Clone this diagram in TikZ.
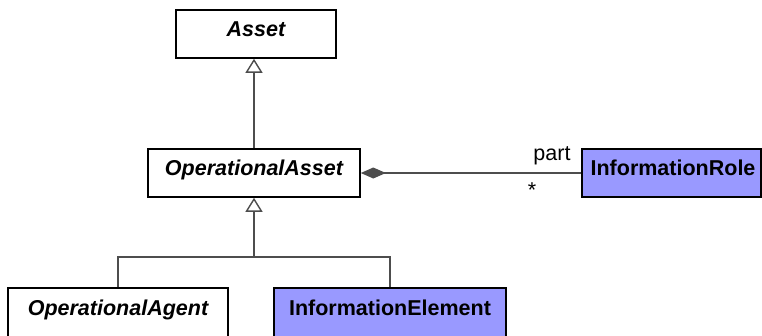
\documentclass[tikz,border=0pt]{standalone}
\usepackage{fontspec}
\setmainfont{Liberation Sans}
\usetikzlibrary{arrows.meta}
\definecolor{lnclr}{HTML}{4D4D4D}
\definecolor{infofill}{HTML}{9999FF}
\tikzset{
  cls/.style={draw=black, line width=1.6pt, rectangle, minimum height=48pt,
    inner sep=0pt, text height=15pt, text depth=10pt,
    font=\fontsize{21.5}{26}\selectfont\bfseries},
  abstr/.style={cls, fill=white, font=\fontsize{21.5}{26}\selectfont\bfseries\itshape},
  info/.style={cls, fill=infofill},
  low/.style={minimum height=56pt, text height=12pt, text depth=14pt},
  conn/.style={draw=lnclr, line width=1.6pt},
  gen/.style={conn, -{Triangle[length=14pt, width=17pt, fill=white, line width=1.4pt]}},
  comp/.style={conn, -{Diamond[length=25pt, width=11pt, fill=lnclr]}},
  lbl/.style={inner sep=0pt, font=\fontsize{21.5}{26}\selectfont}
}
\begin{document}
\begin{tikzpicture}[x=1pt, y=-1pt]
  \useasboundingbox (0,0) rectangle (762,335);
  \clip (0,0) rectangle (762,335);
  \node[abstr, minimum width=160pt] (asset) at (256,34) {Asset};
  \node[abstr, minimum width=212pt] (opasset) at (254,173) {OperationalAsset};
  \node[info, minimum width=179pt] (role) at (671.5,173) {\hspace*{3pt}InformationRole};
  \node[abstr, low, minimum width=220pt] (agent) at (118,316) {OperationalAgent};
  \node[info, low, minimum width=232pt] (elem) at (390,316) {InformationElement};
  \coordinate (j) at (254,257);
  \draw[gen] (opasset.north) -- (opasset.north |- asset.south);
  \draw[conn] (agent.north) |- (j) -| (elem.north);
  \draw[gen] (j) -- (opasset.south);
  \draw[comp] (role.west) -- (opasset.east);
  \node[lbl, anchor=base] (partlbl) at (552,160) {part};
  \node[lbl, anchor=base] (mult) at (532,197) {*};
\end{tikzpicture}
\end{document}
